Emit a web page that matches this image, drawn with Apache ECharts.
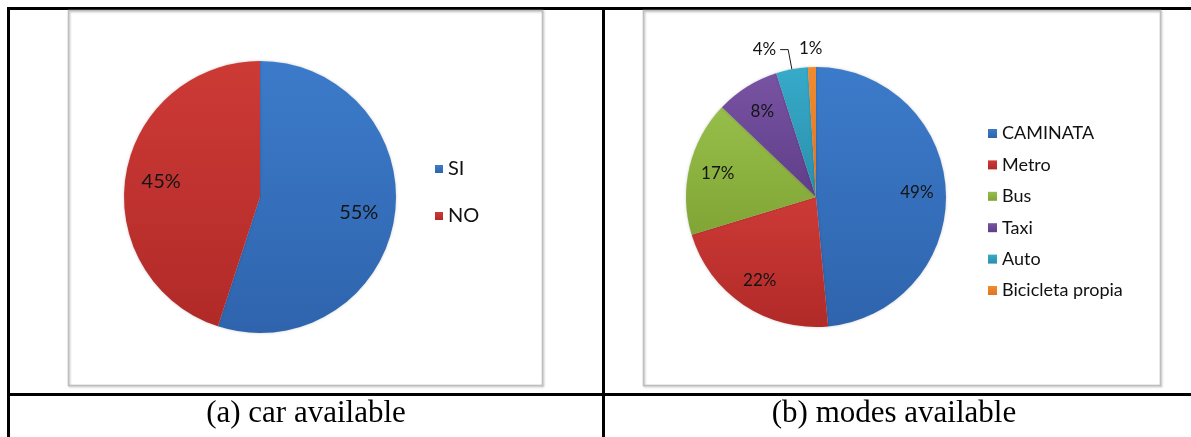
<!DOCTYPE html>
<html>
<head>
<meta charset="utf-8">
<script src="https://cdn.jsdelivr.net/npm/echarts@6/dist/echarts.min.js"></script>
<style>
  html, body { margin: 0; padding: 0; background: #ffffff; }
  #chart { width: 1191px; height: 437px; }
</style>
</head>
<body>
<div id="chart"></div>
<script>
// (a) share of respondents with a car available
const carCategories = ['SI', 'NO'];
const carShares = [55, 45];

// (b) share of each transport mode available
const modeCategories = ['CAMINATA', 'Metro', 'Bus', 'Taxi', 'Auto', 'Bicicleta propia'];
const modeShares = [49, 22, 17, 8, 4, 1];

// captions under each panel
const captions = ['(a) car available', '(b) modes available'];

// slice fills: [top, bottom] of a soft vertical shading
const carColors = [['#3C7BCA', '#2F64AD'], ['#CD3A36', '#B12A28']];
const modeColors = [
  ['#3C7BCA', '#2F64AD'],
  ['#CD3A36', '#B12A28'],
  ['#97BE4A', '#80A535'],
  ['#7853A3', '#5F3E88'],
  ['#37AACA', '#2A8FAB'],
  ['#F28B2E', '#DE7420']
];

const LABEL_FONT = 'Lato, "Open Sans", sans-serif';

function shade(pair) {
  return new echarts.graphic.LinearGradient(0, 0, 0, 1, [
    { offset: 0, color: pair[0] },
    { offset: 1, color: pair[1] }
  ]);
}

function sliceData(names, values, colors) {
  return names.map((n, i) => ({ name: n, value: values[i], itemStyle: { color: shade(colors[i]) } }));
}

// transparent ring that only carries the percentage labels further out than the pie's default
function labelData(names, values, smallLabel) {
  return names.map((n, i) => {
    const item = { name: n, value: values[i] };
    if (smallLabel) Object.assign(item, smallLabel(values[i]));
    return item;
  });
}

// thin slices get their label outside the pie
function modeSmallLabel(v) {
  if (v >= 5) return null;
  if (v >= 2) {
    return {
      label: { position: 'outside', distanceToLabelLine: 4 },
      labelLine: { show: true, length: 20, length2: 8, smooth: false,
                   lineStyle: { color: '#1a1a1a', width: 1 } }
    };
  }
  return {
    label: { position: 'outside', distanceToLabelLine: -11 },
    labelLine: { show: false, length: 19, length2: 0 }
  };
}

const pieBase = {
  type: 'pie',
  startAngle: 90,
  clockwise: true,
  silent: true,
  animation: false,
  avoidLabelOverlap: false
};

const chart = echarts.init(document.getElementById('chart'), null, { renderer: 'canvas' });

const line = (x, y, w, h) => ({ type: 'rect', shape: { x, y, width: w, height: h }, style: { fill: '#000' }, silent: true });
const box = (x, y, w, h) => ({
  type: 'rect', shape: { x, y, width: w, height: h },
  style: { fill: 'none', stroke: '#BEBEBE', lineWidth: 1.5,
           shadowBlur: 2, shadowColor: 'rgba(0,0,0,0.25)', shadowOffsetX: 1, shadowOffsetY: 1 },
  silent: true
});
const caption = (text, x) => ({
  type: 'text', x, y: 414, silent: true,
  style: { text, fill: '#000', font: '31px "Liberation Serif", "Times New Roman", serif',
           align: 'center', verticalAlign: 'middle' }
});

chart.setOption({
  backgroundColor: '#ffffff',
  graphic: [
    // table rules
    line(7, 7, 1184, 3),
    line(7, 7, 3, 430),
    line(602, 7, 3, 430),
    line(7, 393, 1184, 3),
    // chart frames
    box(68.5, 10.5, 474, 375),
    box(643.5, 10.5, 517, 375),
    caption(captions[0], 306),
    caption(captions[1], 894)
  ],
  legend: [
    {
      data: carCategories, orient: 'vertical', left: 430, top: 154,
      icon: 'rect', itemWidth: 8, itemHeight: 8, itemGap: 27, selectedMode: false,
      textStyle: { fontFamily: LABEL_FONT, fontSize: 20, lineHeight: 20, color: '#111' }
    },
    {
      data: modeCategories, orient: 'vertical', left: 983, top: 119,
      icon: 'rect', itemWidth: 9, itemHeight: 9, itemGap: 12.4, selectedMode: false,
      textStyle: { fontFamily: LABEL_FONT, fontSize: 18, lineHeight: 19, color: '#111' }
    }
  ],
  series: [
    Object.assign({}, pieBase, {
      name: 'car', center: [260, 197], radius: [0, 136],
      itemStyle: { shadowBlur: 3, shadowColor: 'rgba(0,0,0,0.2)' },
      label: { show: false }, labelLine: { show: false },
      data: sliceData(carCategories, carShares, carColors)
    }),
    Object.assign({}, pieBase, {
      name: 'modes', center: [816, 197], radius: [0, 130],
      itemStyle: { shadowBlur: 3, shadowColor: 'rgba(0,0,0,0.2)' },
      label: { show: false }, labelLine: { show: false },
      data: sliceData(modeCategories, modeShares, modeColors)
    }),
    Object.assign({}, pieBase, {
      name: 'carLabels', center: [260, 197], radius: [58, 136], z: 5,
      itemStyle: { color: 'rgba(0,0,0,0)' },
      label: { show: true, position: 'inside', formatter: '{c}%',
               fontFamily: LABEL_FONT, fontSize: 20, color: '#141414' },
      labelLine: { show: false },
      data: labelData(carCategories, carShares)
    }),
    Object.assign({}, pieBase, {
      name: 'modeLabels', center: [816, 197], radius: [66, 130], z: 5,
      itemStyle: { color: 'rgba(0,0,0,0)' },
      label: { show: true, position: 'inside', formatter: '{c}%',
               fontFamily: LABEL_FONT, fontSize: 17, color: '#141414' },
      labelLine: { show: false },
      data: labelData(modeCategories, modeShares, modeSmallLabel)
    })
  ]
});
</script>
</body>
</html>
